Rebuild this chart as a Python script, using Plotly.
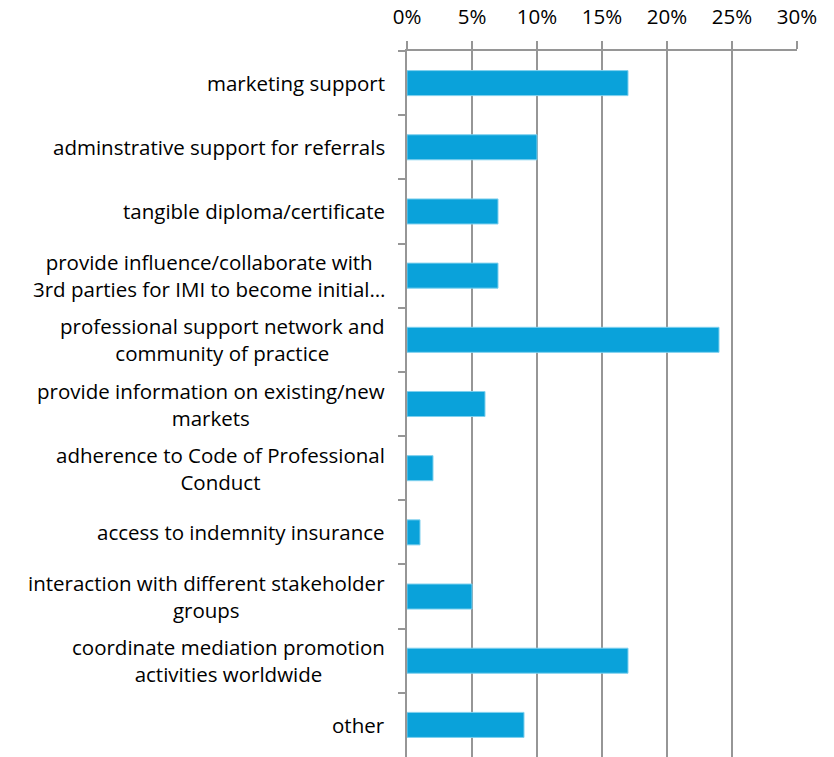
import plotly.graph_objects as go

# Share of respondents per requested service (percent)
categories = [
    "marketing support",
    "adminstrative support for referrals",
    "tangible diploma/certificate",
    "provide influence/collaborate with<br>3rd parties for IMI to become initial…",
    "professional support network and<br>community of practice",
    "provide information on existing/new<br>markets",
    "adherence to Code of Professional<br>Conduct",
    "access to indemnity insurance",
    "interaction with different stakeholder<br>groups",
    "coordinate mediation promotion<br>activities worldwide",
    "other",
]
values = [17, 10, 7, 7, 24, 6, 2, 1, 5, 17, 9]
x_ticks = [0, 5, 10, 15, 20, 25, 30]

FONT = "Open Sans"
GRID = "#969696"
BAR = "#0AA2DA"
SIZE = 20.5

fig = go.Figure(
    go.Bar(
        y=categories,
        x=values,
        orientation="h",
        marker=dict(color=BAR, line=dict(color="#7fd0ee", width=1)),
        width=0.39,
        hoverinfo="x+y",
    )
)

# Category labels: right-anchored block, lines centered within it
for cat in categories:
    fig.add_annotation(
        x=0, xref="paper", xanchor="right", xshift=-20,
        y=cat, yref="y",
        text=cat, showarrow=False, align="center",
        font=dict(family=FONT, size=SIZE, color="#000000"),
    )

fig.update_layout(
    width=834, height=757,
    margin=dict(l=407, r=37, t=51, b=0),
    paper_bgcolor="white", plot_bgcolor="white",
    showlegend=False,
    font=dict(family=FONT, size=SIZE, color="#000000"),
    xaxis=dict(
        side="top", range=[0, 30], tickvals=x_ticks,
        ticktext=[f"{v}%" for v in x_ticks],
        showgrid=True, gridcolor=GRID, gridwidth=1.5,
        ticks="outside", ticklen=8, tickcolor=GRID, tickwidth=1.5,
        showline=True, linecolor=GRID, linewidth=1.5,
        zeroline=False, ticklabelstandoff=9,
        tickfont=dict(family=FONT, size=SIZE),
    ),
    yaxis=dict(
        type="category", autorange="reversed",
        showticklabels=False, tickson="boundaries",
        ticks="outside", ticklen=7, tickcolor=GRID, tickwidth=1.5,
        showline=True, linecolor=GRID, linewidth=1.5,
        showgrid=False, zeroline=False,
    ),
)

fig.write_html("out.html")
